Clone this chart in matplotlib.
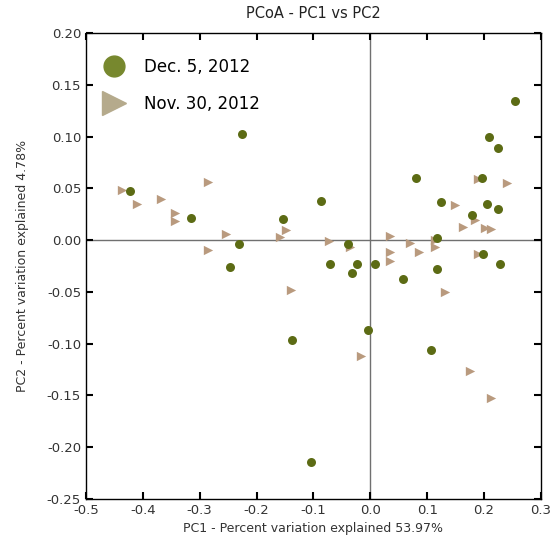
import matplotlib
matplotlib.use('Agg')
import matplotlib.pyplot as plt
from matplotlib.lines import Line2D

# PCoA coordinates
dec5_pc1 = [-0.423, -0.315, -0.226, -0.154, -0.231, -0.246, -0.137, -0.104,
            -0.087, -0.071, -0.039, -0.033, -0.024, 0.009, -0.004, 0.057,
            0.081, 0.107, 0.118, 0.118, 0.124, 0.179, 0.196, 0.198,
            0.205, 0.208, 0.224, 0.224, 0.228, 0.254]
dec5_pc2 = [0.047, 0.021, 0.102, 0.020, -0.004, -0.026, -0.096, -0.214,
            0.038, -0.023, -0.004, -0.032, -0.023, -0.023, -0.087, -0.038,
            0.060, -0.106, 0.002, -0.028, 0.037, 0.024, 0.060, -0.013,
            0.035, 0.100, 0.089, 0.030, -0.023, 0.134]

nov30_pc1 = [-0.437, -0.411, -0.368, -0.344, -0.344, -0.286, -0.253, -0.286,
             -0.149, -0.159, -0.140, -0.072, -0.036, -0.017, 0.035, 0.035,
             0.035, 0.070, 0.086, 0.114, 0.114, 0.132, 0.149, 0.163,
             0.184, 0.190, 0.190, 0.202, 0.213, 0.241, 0.175, 0.212]
nov30_pc2 = [0.048, 0.035, 0.040, 0.026, 0.018, 0.056, 0.006, -0.010,
             0.010, 0.003, -0.048, -0.001, -0.007, -0.112, 0.004, -0.011,
             -0.020, -0.003, -0.011, 0.000, -0.007, -0.050, 0.034, 0.013,
             0.019, 0.059, -0.013, 0.012, 0.011, 0.055, -0.126, -0.152]

labels = ['Dec. 5, 2012', 'Nov. 30, 2012']
x_label = 'PC1 - Percent variation explained 53.97%'
y_label = 'PC2 - Percent variation explained 4.78%'

col_dec = '#5c6b14'
col_nov = '#b99a7e'

fig = plt.figure(figsize=(5.58, 5.48), dpi=100)
ax = fig.add_axes([0.154, 0.0894, 0.8155, 0.8504])

ax.axhline(0, color='#707070', lw=1.0, zorder=1)
ax.axvline(0, color='#707070', lw=1.0, zorder=1)

ax.scatter(nov30_pc1, nov30_pc2, marker='>', s=45, color=col_nov, lw=0, zorder=2)
ax.scatter(dec5_pc1, dec5_pc2, marker='o', s=42, color=col_dec, lw=0, zorder=3)

ax.set_xlim(-0.5, 0.3)
ax.set_ylim(-0.25, 0.20)
ax.set_xticks([-0.5, -0.4, -0.3, -0.2, -0.1, 0.0, 0.1, 0.2, 0.3])
ax.set_yticks([-0.25, -0.20, -0.15, -0.10, -0.05, 0.0, 0.05, 0.10, 0.15, 0.20])
ax.xaxis.set_major_formatter(plt.FormatStrFormatter('%.1f'))
ax.yaxis.set_major_formatter(plt.FormatStrFormatter('%.2f'))
ax.tick_params(direction='in', top=True, right=True, length=5, width=1.5,
               labelsize=9.5, colors='black', labelcolor='#333333')
for sp in ax.spines.values():
    sp.set_linewidth(1.0)

ax.set_xlabel(x_label, fontsize=9, color='#333333', labelpad=4)
ax.set_ylabel(y_label, fontsize=9, color='#333333', labelpad=13)
ax.set_title('PCoA - PC1 vs PC2', fontsize=10.5, color='#222222', pad=11)

handles = [Line2D([], [], marker='o', ls='', ms=15, color='#77882e', mec='#77882e'),
           Line2D([], [], marker='>', ls='', ms=17, color='#b5aa8c', mec='#b5aa8c')]
ax.legend(handles, labels, loc='upper left', frameon=False, fontsize=12,
          handletextpad=0.8, labelspacing=1.15, borderaxespad=0.4,
          bbox_to_anchor=(-0.005, 0.975))

fig.savefig('out.png', dpi=100)
